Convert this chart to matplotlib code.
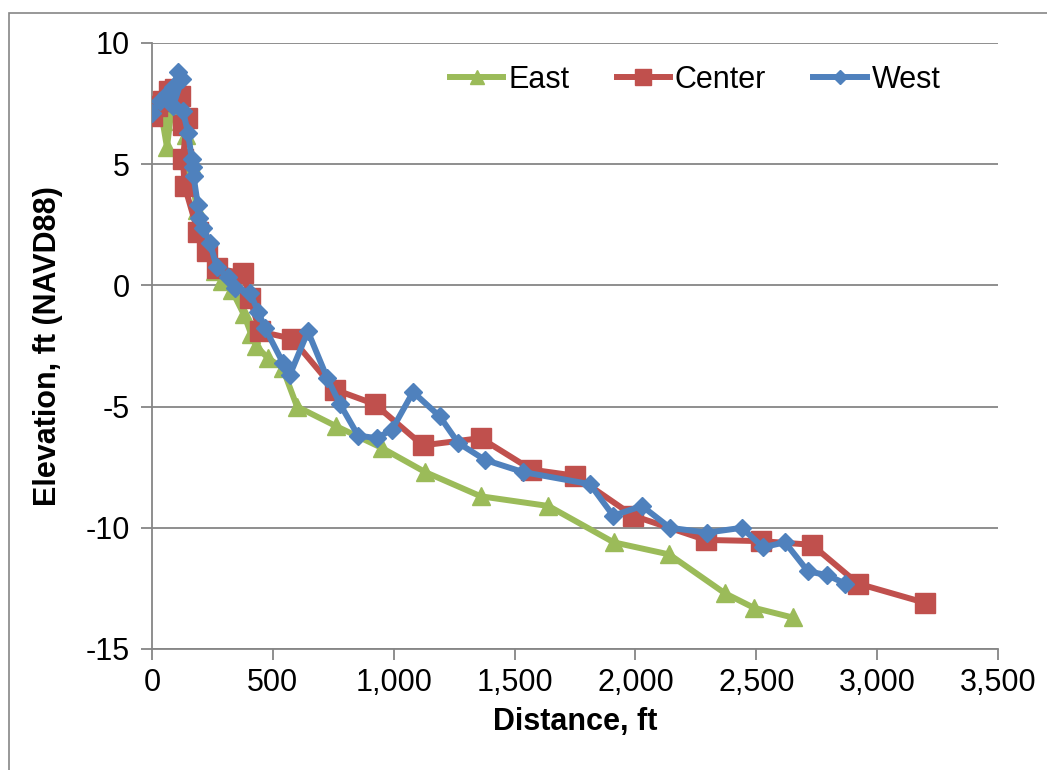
import matplotlib
matplotlib.use("Agg")
import matplotlib.pyplot as plt
from matplotlib.patches import Rectangle
from matplotlib.ticker import FuncFormatter

# profile survey points: distance (ft) and elevation (ft, NAVD88)
east_x = [40, 62, 80, 100, 120, 140, 160, 185, 200, 230, 260, 290, 330, 380, 410,
          430, 480, 540, 600, 760, 950, 1130, 1360, 1640, 1910, 2140, 2370, 2490, 2650]
east_y = [7.0, 5.7, 7.2, 7.5, 6.8, 6.2, 5.0, 3.1, 2.2, 1.5, 0.6, 0.2, -0.2, -1.2, -2.0,
          -2.5, -3.0, -3.4, -5.0, -5.8, -6.7, -7.7, -8.7, -9.1, -10.6, -11.1, -12.7, -13.3, -13.7]

center_x = [0, 20, 45, 70, 95, 115, 130, 145, 128, 135, 190, 228, 268, 375, 405,
            445, 580, 757, 922, 1120, 1360, 1570, 1750, 1990, 2290, 2520, 2730, 2920, 3200]
center_y = [7.0, 7.4, 7.6, 8.0, 8.1, 7.8, 6.6, 6.9, 5.2, 4.1, 2.2, 1.4, 0.7, 0.5, -0.5,
            -1.9, -2.2, -4.3, -4.9, -6.6, -6.3, -7.6, -7.85, -9.5, -10.5, -10.55, -10.7, -12.3, -13.1]

west_x = [0, 33, 62, 87, 108, 124, 87, 128, 149, 165, 168, 172, 190, 195, 211, 240,
          268, 314, 343, 405, 440, 467, 542, 570, 645, 724, 778, 853, 930, 993, 1080,
          1190, 1267, 1378, 1535, 1812, 1908, 2027, 2143, 2296, 2440, 2528, 2619, 2714,
          2793, 2867]
west_y = [7.1, 7.6, 7.9, 8.2, 8.8, 8.5, 7.4, 7.2, 6.3, 5.2, 4.9, 4.5, 3.3, 2.8, 2.35, 1.75,
          0.75, 0.35, -0.1, -0.3, -1.1, -1.75, -3.2, -3.7, -1.9, -3.8, -4.9, -6.2, -6.3, -5.95, -4.4,
          -5.4, -6.5, -7.2, -7.7, -8.2, -9.5, -9.1, -10.0, -10.2, -10.0, -10.8, -10.6, -11.8,
          -11.95, -12.3]

x_ticks = [0, 500, 1000, 1500, 2000, 2500, 3000, 3500]
y_ticks = [-15, -10, -5, 0, 5, 10]

GREEN = "#9BBB59"
RED = "#C0504D"
BLUE = "#4F81BD"
AXIS = "#868686"
FS = 22

plt.rcParams["font.family"] = ["Liberation Sans", "DejaVu Sans"]
plt.rcParams["axes.unicode_minus"] = False

fig = plt.figure(figsize=(10.47, 7.7), dpi=100)
ax = fig.add_axes([152 / 1047, 1 - 649 / 770, 846 / 1047, 606 / 770])

# chart area border
fig.patches.append(Rectangle((9 / 1047, -0.1), 1.2, (770 - 13) / 770 + 0.1,
                             transform=fig.transFigure, fill=False,
                             edgecolor=AXIS, linewidth=1.2))

ax.plot(east_x, east_y, color=GREEN, lw=4.3, marker="^", ms=13,
        solid_joinstyle="round", label="East", zorder=3)
ax.plot(center_x, center_y, color=RED, lw=4.3, marker="s", ms=14,
        solid_joinstyle="round", label="Center", zorder=4)
ax.plot(west_x, west_y, color=BLUE, lw=4.3, marker="D", ms=9.5,
        solid_joinstyle="round", label="West", zorder=5)

ax.set_xlim(0, 3500)
ax.set_ylim(-15, 10)
ax.set_xticks(x_ticks)
ax.set_yticks(y_ticks)
ax.xaxis.set_major_formatter(FuncFormatter(lambda v, p: f"{int(v):,}"))
ax.grid(axis="y", color=AXIS, lw=1.3)
ax.set_axisbelow(True)

for side in ["top", "right"]:
    ax.spines[side].set_visible(False)
for side in ["left", "bottom"]:
    ax.spines[side].set_color(AXIS)
    ax.spines[side].set_linewidth(1.3)
ax.tick_params(axis="both", colors=AXIS, length=8, width=1.3, labelsize=FS,
               labelcolor="black")
ax.tick_params(axis="x", pad=6)
ax.tick_params(axis="y", pad=8)

ax.set_xlabel("Distance, ft", fontsize=FS, fontweight="bold", labelpad=6)
ax.set_ylabel("Elevation, ft (NAVD88)", fontsize=FS, fontweight="bold", labelpad=16)

ax.legend(loc="center left", bbox_to_anchor=((450 - 152) / 846, (649 - 80) / 606),
          ncol=3, frameon=False, fontsize=FS, handlelength=1.75, handletextpad=0.15,
          columnspacing=1.55, borderpad=0, borderaxespad=0, markerscale=0.8)

fig.savefig("out.png", dpi=100)
